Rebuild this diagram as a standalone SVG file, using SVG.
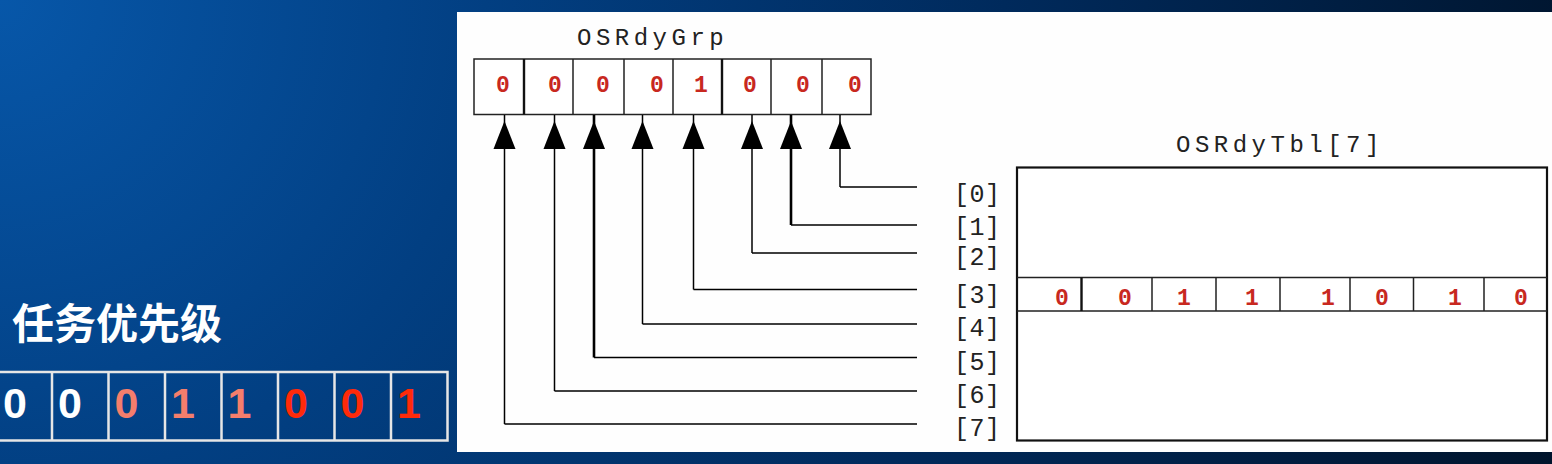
<svg xmlns="http://www.w3.org/2000/svg" width="1552" height="464" viewBox="0 0 1552 464">
  <defs>
    <radialGradient id="bg" gradientUnits="userSpaceOnUse" cx="0" cy="0" r="1620">
      <stop offset="0" stop-color="#0757a9"/>
      <stop offset="0.3" stop-color="#023f82"/>
      <stop offset="0.62" stop-color="#002a5c"/>
      <stop offset="1" stop-color="#00142c"/>
    </radialGradient>
    <marker id="arrowUp" markerUnits="userSpaceOnUse" viewBox="0 -15 40 30" markerWidth="40" markerHeight="30" refX="40" refY="0" orient="auto" overflow="visible">
      <path d="M6,-11 L34,0 L6,11 Z" fill="#000"/>
    </marker>
    <style>
      .mono { font-family: "Liberation Mono", "DejaVu Sans Mono", monospace; }
      .title { font-size: 24px; letter-spacing: 4.5px; fill: #222; }
      .idx { font-size: 25px; letter-spacing: 0.5px; fill: #222; }
      .bit { font-size: 23px; font-weight: bold; fill: #c8281f; text-anchor: middle; }
      .cell { fill: #fff; stroke: #222; stroke-width: 1.5; }
      .conn { fill: none; stroke: #000; stroke-width: 1.5; }
      .up { fill: none; stroke: #000; stroke-width: 1.5; marker-end: url(#arrowUp); }
      .thick { stroke-width: 2.6; }
      .pbox { fill: none; stroke: #e6e6e6; stroke-width: 2.5; }
      .pbit { font-family: "Liberation Sans", Arial, sans-serif; font-size: 43px; font-weight: bold; }
    </style>
  </defs>

  <!-- background -->
  <rect x="0" y="0" width="1552" height="464" fill="url(#bg)"/>
  <!-- white panel -->
  <rect x="457" y="12" width="1095" height="440" fill="#fefefe"/>

  <!-- left: task priority -->
  <g id="priority-label">
    <text x="12" y="339" font-family="'Noto Sans CJK SC', 'Noto Sans', sans-serif" font-size="42" font-weight="bold" fill="#ffffff">任务优先级</text>
  </g>
  <g id="priority-bits">
    <rect class="pbox" x="-4.5" y="372" width="452" height="68.5"/>
    <path class="pbox" d="M52,372 V440.5 M108.5,372 V440.5 M165,372 V440.5 M221.5,372 V440.5 M278,372 V440.5 M334.5,372 V440.5 M391,372 V440.5"/>
    <text class="pbit" x="3" y="418" fill="#ffffff">0</text>
    <text class="pbit" x="58" y="418" fill="#ffffff">0</text>
    <text class="pbit" x="114.5" y="418" fill="#f47e6c">0</text>
    <text class="pbit" x="171" y="418" fill="#f47e6c">1</text>
    <text class="pbit" x="227.5" y="418" fill="#f47e6c">1</text>
    <text class="pbit" x="284" y="418" fill="#ff2a0a">0</text>
    <text class="pbit" x="340.5" y="418" fill="#ff2a0a">0</text>
    <text class="pbit" x="397" y="418" fill="#ff2a0a">1</text>
  </g>

  <!-- OSRdyGrp -->
  <g id="OSRdyGrp">
    <text class="mono title" x="577" y="45">OSRdyGrp</text>
    <rect class="cell" x="474" y="59" width="397" height="55.5"/>
    <path d="M573,59 V114.5 M624,59 V114.5 M673,59 V114.5 M771,59 V114.5 M822,59 V114.5" stroke="#222" stroke-width="1.5" fill="none"/>
    <path d="M524,59 V114.5 M722,59 V114.5" stroke="#111" stroke-width="2.4" fill="none"/>
    <text class="mono bit" x="503" y="92">0</text>
    <text class="mono bit" x="555" y="92">0</text>
    <text class="mono bit" x="603" y="92">0</text>
    <text class="mono bit" x="657" y="92">0</text>
    <text class="mono bit" x="701" y="92" font-weight="normal">1</text>
    <text class="mono bit" x="750" y="92">0</text>
    <text class="mono bit" x="803" y="92">0</text>
    <text class="mono bit" x="855" y="92">0</text>
  </g>

  <!-- OSRdyTbl -->
  <g id="OSRdyTbl">
    <text class="mono title" x="1176" y="152">OSRdyTbl[7]</text>
    <rect x="1017" y="167.5" width="530" height="273" fill="#fff" stroke="#111" stroke-width="2.2"/>
    <path d="M1017,277.5 H1547 M1017,311 H1547" stroke="#222" stroke-width="1.5" fill="none"/>
    <path d="M1152,277.5 V311 M1216,277.5 V311 M1280,277.5 V311 M1350,277.5 V311 M1413.5,277.5 V311 M1484,277.5 V311" stroke="#222" stroke-width="1.5" fill="none"/>
    <path d="M1081.5,277.5 V311" stroke="#111" stroke-width="2.4" fill="none"/>
    <text class="mono bit" x="1062" y="305" fill="#c4302a">0</text>
    <text class="mono bit" x="1125" y="305" fill="#c4302a">0</text>
    <text class="mono bit" x="1184" y="305" fill="#c4302a">1</text>
    <text class="mono bit" x="1252" y="305" fill="#c4302a">1</text>
    <text class="mono bit" x="1328" y="305" fill="#c4302a">1</text>
    <text class="mono bit" x="1382" y="305" fill="#c4302a">0</text>
    <text class="mono bit" x="1455" y="305" fill="#c4302a">1</text>
    <text class="mono bit" x="1521" y="305" fill="#c4302a">0</text>
  </g>

  <!-- row index labels -->
  <g id="row-labels">
    <text class="mono idx" x="954" y="202">[0]</text>
    <text class="mono idx" x="954" y="235">[1]</text>
    <text class="mono idx" x="954" y="265">[2]</text>
    <text class="mono idx" x="954" y="303">[3]</text>
    <text class="mono idx" x="954" y="336">[4]</text>
    <text class="mono idx" x="954" y="370">[5]</text>
    <text class="mono idx" x="954" y="403">[6]</text>
    <text class="mono idx" x="954" y="436">[7]</text>
  </g>

  <!-- connectors: horizontal runs from the table rows, then vertical runs up to OSRdyGrp bits -->
  <g id="connectors">
    <path class="conn" d="M917,187 H840 M917,225 H791 M917,253 H752 M917,289.5 H693.5 M917,324 H642.5 M917,357.5 H594 M917,391 H554.5 M917,424 H504.5"/>
    <path class="up" d="M840,187 V115"/>
    <path class="up thick" d="M791,225 V115"/>
    <path class="up" d="M752,253 V115"/>
    <path class="up" d="M693.5,289.5 V115"/>
    <path class="up" d="M642.5,324 V115"/>
    <path class="up thick" d="M594,357.5 V115"/>
    <path class="up" d="M554.5,391 V115"/>
    <path class="up" d="M504.5,424 V115"/>
  </g>
</svg>
